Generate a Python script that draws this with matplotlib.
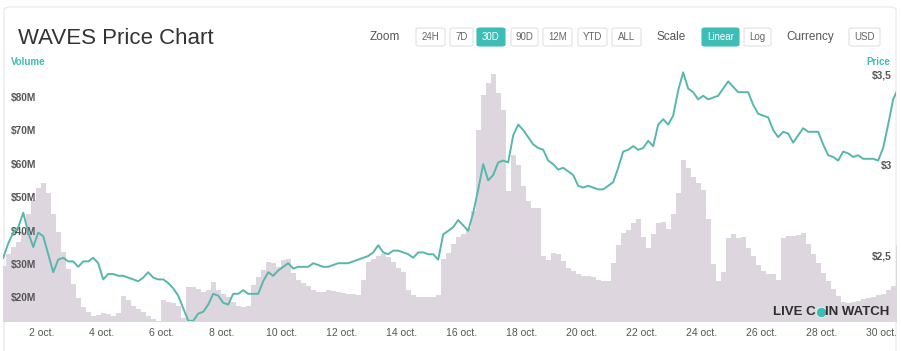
import matplotlib.pyplot as plt
import numpy as np
from matplotlib.patches import FancyBboxPatch

W, H = 901, 351

# time grid: days since 30 sep 00:00, 4 hour steps
start_day = 17 / 24
step_day = 1 / 6

volume_musd = [
    29.8, 33.3, 35.4, 36.9, 39.9, 45.2, 49.4, 53.0, 54.5, 51.5,
    45.2, 39.9, 33.9, 28.8, 24.3, 20.0, 17.4, 15.9, 14.7, 15.0,
    15.6, 15.3, 14.7, 15.6, 20.6, 19.4, 17.7, 16.8, 15.9, 14.7,
    13.8, 13.3, 19.4, 18.8, 18.5, 17.6, 14.0, 23.4, 23.4, 22.8,
    21.9, 22.5, 24.9, 22.5, 21.3, 20.4, 18.9, 17.7, 17.4, 17.7,
    24.0, 26.4, 28.5, 30.9, 30.6, 29.4, 31.5, 31.8, 27.6, 25.5,
    24.6, 23.7, 22.5, 21.9, 21.9, 22.5, 22.2, 21.9, 21.6, 21.3,
    21.3, 21.0, 25.5, 30.9, 31.8, 32.7, 33.3, 32.4, 30.9, 29.1,
    27.9, 22.5, 21.0, 20.4, 20.4, 20.4, 20.4, 21.0, 31.9, 33.7,
    36.4, 38.5, 39.4, 41.2, 46.3, 70.3, 80.8, 84.4, 87.1, 81.4,
    76.3, 52.3, 62.8, 60.1, 53.8, 49.3, 47.2, 47.2, 32.8, 31.6,
    33.7, 33.4, 31.3, 29.2, 28.3, 27.4, 26.8, 26.8, 26.5, 25.6,
    25.3, 25.3, 30.7, 36.1, 39.7, 40.6, 42.7, 43.9, 38.5, 35.2,
    39.4, 42.7, 43.0, 40.9, 45.4, 51.7, 61.4, 59.0, 56.3, 54.5,
    52.5, 43.9, 30.4, 25.3, 28.0, 38.0, 39.4, 38.0, 38.3, 35.2,
    32.8, 30.1, 28.3, 27.4, 27.4, 25.6, 38.0, 38.8, 38.8, 39.1,
    39.7, 36.4, 33.4, 30.7, 27.7, 25.3, 22.9, 20.8, 19.0, 18.7,
    19.0, 19.3, 19.9, 20.2, 20.5, 21.1, 21.4, 22.6, 23.8, 36.0,
]

price_usd = [
    2.49, 2.57, 2.63, 2.66, 2.74, 2.63, 2.55, 2.63, 2.61, 2.51,
    2.41, 2.48, 2.49, 2.47, 2.47, 2.44, 2.47, 2.47, 2.49, 2.46,
    2.37, 2.40, 2.40, 2.39, 2.39, 2.38, 2.37, 2.36, 2.38, 2.41,
    2.38, 2.37, 2.37, 2.35, 2.32, 2.28, 2.21, 2.14, 2.14, 2.18,
    2.19, 2.23, 2.29, 2.28, 2.24, 2.23, 2.29, 2.29, 2.31, 2.29,
    2.29, 2.29, 2.36, 2.41, 2.39, 2.42, 2.44, 2.46, 2.43, 2.44,
    2.44, 2.44, 2.46, 2.45, 2.44, 2.44, 2.45, 2.46, 2.46, 2.46,
    2.47, 2.48, 2.49, 2.50, 2.52, 2.56, 2.52, 2.51, 2.53, 2.53,
    2.52, 2.51, 2.49, 2.52, 2.52, 2.51, 2.51, 2.48, 2.62, 2.64,
    2.66, 2.70, 2.67, 2.64, 2.74, 2.87, 3.01, 2.92, 2.95, 3.02,
    3.03, 3.02, 3.17, 3.23, 3.20, 3.16, 3.12, 3.10, 3.09, 3.03,
    3.01, 2.98, 2.99, 2.97, 2.95, 2.89, 2.88, 2.89, 2.88, 2.87,
    2.87, 2.89, 2.91, 2.99, 3.08, 3.09, 3.11, 3.09, 3.10, 3.14,
    3.11, 3.23, 3.26, 3.23, 3.28, 3.42, 3.52, 3.43, 3.41, 3.37,
    3.39, 3.37, 3.38, 3.39, 3.43, 3.47, 3.44, 3.41, 3.41, 3.41,
    3.34, 3.29, 3.28, 3.27, 3.20, 3.16, 3.19, 3.18, 3.13, 3.17,
    3.21, 3.19, 3.19, 3.19, 3.12, 3.06, 3.05, 3.03, 3.08, 3.07,
    3.05, 3.06, 3.04, 3.04, 3.04, 3.03, 3.10, 3.23, 3.37, 3.43,
]

tick_days = list(range(2, 31, 2))
tick_labels = [f"{d} oct." for d in tick_days]
vol_ticks = [20, 30, 40, 50, 60, 70, 80]
price_ticks = [2.5, 3.0, 3.5]
price_tick_labels = ["$2,5", "$3", "$3,5"]

zoom_buttons = ["24H", "7D", "30D", "90D", "12M", "YTD", "ALL"]
scale_buttons = ["Linear", "Log"]

TEAL = "#3dbdb5"
LINE = "#56b7ac"
FILL = "#ddd6de"
GREY = "#555555"

plt.rcParams["font.family"] = ["Liberation Sans", "DejaVu Sans"]

t = start_day + np.arange(len(price_usd)) * step_day

fig = plt.figure(figsize=(W / 100, H / 100), dpi=100)


def fx(px):
    return px / W


def fy(py):
    return 1 - py / H


# card outline
card = FancyBboxPatch((fx(4), fy(400)), fx(892), fy(7) - fy(400),
                      boxstyle="round,pad=0,rounding_size=0.008",
                      transform=fig.transFigure, fc="none",
                      ec="#e6e6e6", lw=0.8, zorder=-1)
fig.patches.append(card)

ax = fig.add_axes([fx(3), fy(321), fx(893), fy(65) - fy(321)])
ax.set_facecolor("none")
ax.fill_between(t, volume_musd, 0, step="mid", color=FILL, lw=0)
ax.set_ylim(13.23, 89.9)
ax.set_xlim(0.70, 30.47)

ax2 = ax.twinx()
ax2.plot(t, price_usd, color=LINE, lw=1.4)
ax2.set_ylim(2.139, 3.561)

for a in (ax, ax2):
    for s in a.spines.values():
        s.set_visible(False)
    a.set_yticks([])

ax.set_xticks(tick_days)
ax.set_xticklabels(tick_labels, fontsize=7.5, color=GREY)
ax.tick_params(axis="x", length=0, pad=5)

for v in vol_ticks:
    ax.text(0.009, v, f"${v}M", transform=ax.get_yaxis_transform(),
            fontsize=7.3, fontweight="bold", color=GREY, va="center", ha="left")
for v, lab in zip(price_ticks, price_tick_labels):
    ax2.text(0.9955, v, lab, transform=ax2.get_yaxis_transform(),
             fontsize=7.3, fontweight="bold", color=GREY, va="center", ha="right")

fig.text(fx(11), fy(62), "Volume", fontsize=7, fontweight="bold", color=TEAL,
         va="center", ha="left")
fig.text(fx(890), fy(62), "Price", fontsize=7, fontweight="bold", color=TEAL,
         va="center", ha="right")

# title
fig.text(fx(18), fy(38), "WAVES Price Chart", fontsize=16, color="#333333",
         va="center", ha="left")


def button(x0, x1, label, active=False):
    fig.patches.append(FancyBboxPatch((fx(x0), fy(46)), fx(x1 - x0), fy(28) - fy(46),
                                      boxstyle="round,pad=0,rounding_size=0.004",
                                      transform=fig.transFigure,
                                      fc=TEAL if active else "white",
                                      ec=TEAL if active else "#e2e2e2", lw=0.8))
    fig.text(fx((x0 + x1) / 2), fy(37.5), label, fontsize=7,
             color="white" if active else "#666666", va="center", ha="center")


fig.text(fx(385), fy(37), "Zoom", fontsize=8.5, color=GREY, va="center", ha="center")
zoom_x = [(416, 445), (450, 473), (477, 505), (511, 538), (543, 572), (578, 607), (612, 641)]
for (x0, x1), lab in zip(zoom_x, zoom_buttons):
    button(x0, x1, lab, active=(lab == "30D"))

fig.text(fx(671), fy(37), "Scale", fontsize=8.5, color=GREY, va="center", ha="center")
for (x0, x1), lab in zip([(702, 739), (744, 771)], scale_buttons):
    button(x0, x1, lab, active=(lab == "Linear"))

fig.text(fx(810), fy(37), "Currency", fontsize=8.5, color=GREY, va="center", ha="center")
button(849, 880, "USD")

# logo
fig.text(fx(816), fy(312), "LIVE C", fontsize=9.5, color="#2e2e2e",
         fontweight="bold", va="center", ha="right")
fig.text(fx(825), fy(312), "IN WATCH", fontsize=9.5, color="#2e2e2e",
         fontweight="bold", va="center", ha="left")
fig.add_artist(plt.Line2D([fx(820.5)], [fy(312)], marker="o", ms=7.5,
                          color=TEAL, mec="white", mew=0.5,
                          transform=fig.transFigure))

fig.savefig("out.png", dpi=100)
